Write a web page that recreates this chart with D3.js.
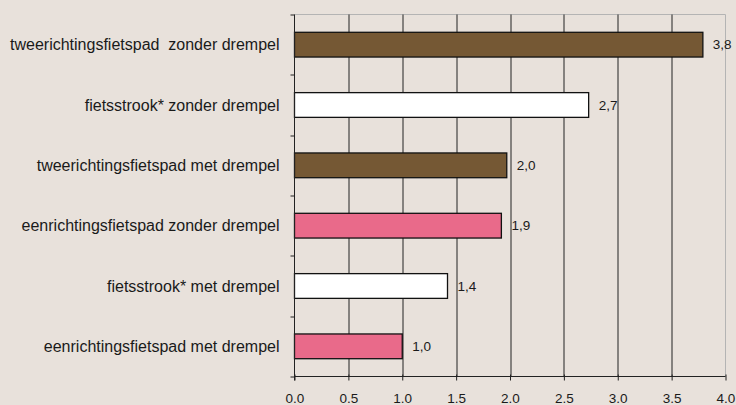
<!DOCTYPE html>
<html>
<head>
<meta charset="utf-8">
<script src="https://cdn.jsdelivr.net/npm/d3@7"></script>
<style>
  body { margin: 0; background: #e8e1db; }
  svg { display: block; }
  text { font-family: "Liberation Sans", Arial, sans-serif; fill: #1a1a1a; }
</style>
</head>
<body>
<svg width="736" height="405"></svg>
<script>
  const categories = [
    'tweerichtingsfietspad\u00a0 zonder drempel',
    'fietsstrook* zonder drempel',
    'tweerichtingsfietspad met drempel',
    'eenrichtingsfietspad zonder drempel',
    'fietsstrook* met drempel',
    'eenrichtingsfietspad met drempel'
  ];
  const values = [3.79, 2.73, 1.97, 1.92, 1.42, 1.0];
  const valueLabels = ['3,8', '2,7', '2,0', '1,9', '1,4', '1,0'];
  const barColors = ['#755834', '#ffffff', '#755834', '#e96a8a', '#ffffff', '#e96a8a'];
  const xTicks = [0, 0.5, 1, 1.5, 2, 2.5, 3, 3.5, 4];

  const svg = d3.select('svg');
  const margin = { top: 14.5, left: 294.5, right: 10.5, bottom: 28.5 };
  const width = 736 - margin.left - margin.right;
  const height = 405 - margin.top - margin.bottom;

  const x = d3.scaleLinear().domain([0, 4]).range([0, width]);
  const y = d3.scaleBand().domain(categories).range([0, height]).paddingInner(0.59).paddingOuter(0.295);

  const g = svg.append('g').attr('transform', `translate(${margin.left},${margin.top})`);

  // frame top/right (light)
  g.append('path')
    .attr('d', `M0,0H${width}V${height}`)
    .attr('fill', 'none')
    .attr('stroke', '#b4b4b4')
    .attr('stroke-width', 1);

  // vertical gridlines
  g.selectAll('.grid')
    .data(xTicks.filter(d => d > 0 && d < 4))
    .enter().append('line')
      .attr('class', 'grid')
      .attr('x1', d => Math.round(x(d)) + 0.5)
      .attr('x2', d => Math.round(x(d)) + 0.5)
      .attr('y1', 0)
      .attr('y2', height)
      .attr('stroke', '#222')
      .attr('stroke-width', 1);

  // bars
  g.selectAll('.bar')
    .data(values)
    .enter().append('rect')
      .attr('class', 'bar')
      .attr('x', x(0))
      .attr('y', (d, i) => y(categories[i]))
      .attr('width', d => x(d))
      .attr('height', y.bandwidth())
      .attr('fill', (d, i) => barColors[i])
      .attr('stroke', '#111')
      .attr('stroke-width', 1.3);

  // value labels
  g.selectAll('.val')
    .data(values)
    .enter().append('text')
      .attr('class', 'val')
      .attr('x', d => x(d) + 10)
      .attr('y', (d, i) => y(categories[i]) + y.bandwidth() / 2)
      .attr('dy', '0.35em')
      .attr('font-size', '13.5px')
      .text((d, i) => valueLabels[i]);

  // x axis
  const xAxis = d3.axisBottom(x)
    .tickValues(xTicks)
    .tickFormat(d3.format('.1f'))
    .tickSize(4)
    .tickPadding(13);
  const xg = g.append('g')
    .attr('transform', `translate(0,${height})`)
    .call(xAxis);
  xg.select('.domain').attr('stroke', '#222').attr('d', `M0,0H${width}`);
  xg.selectAll('.tick line').attr('stroke', '#222').attr('y1', -2);
  xg.selectAll('.tick text')
    .attr('font-size', '13.5px')
    .attr('font-family', '"Liberation Sans", Arial, sans-serif')
    .attr('fill', '#1a1a1a');

  // y axis
  const yAxisLine = g.append('g');
  yAxisLine.append('line')
    .attr('x1', 0).attr('x2', 0).attr('y1', 0).attr('y2', height + 4)
    .attr('stroke', '#222');
  const bandEdges = d3.range(categories.length + 1).map(i => i * height / categories.length);
  yAxisLine.selectAll('.ytick')
    .data(bandEdges)
    .enter().append('line')
      .attr('x1', -4).attr('x2', 0)
      .attr('y1', d => Math.round(d) + 0.5).attr('y2', d => Math.round(d) + 0.5)
      .attr('stroke', '#222');

  // category labels
  g.selectAll('.cat')
    .data(categories)
    .enter().append('text')
      .attr('class', 'cat')
      .attr('x', -15)
      .attr('y', d => y(d) + y.bandwidth() / 2)
      .attr('dy', '0.35em')
      .attr('text-anchor', 'end')
      .attr('font-size', '16px')
      .text(d => d);
</script>
</body>
</html>
